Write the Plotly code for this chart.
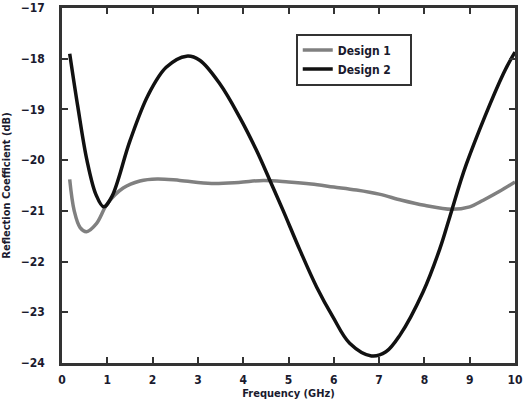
import plotly.graph_objects as go

# Frequency (GHz) and reflection coefficient (dB)
freq1 = [0.17, 0.27, 0.4, 0.54, 0.76, 1.0, 1.35, 1.72, 2.1, 2.6, 3.3, 3.9, 4.45, 5.0, 5.5, 6.0,
         6.5, 7.0, 7.5, 8.0, 8.6, 9.0, 9.3, 9.65, 10.0]
design1 = [-20.38, -21.0, -21.33, -21.41, -21.25, -20.86, -20.55, -20.41, -20.37, -20.4, -20.46,
           -20.44, -20.4, -20.43, -20.47, -20.53, -20.59, -20.67, -20.79, -20.89, -20.97, -20.92,
           -20.79, -20.62, -20.43]

freq2 = [0.17, 0.35, 0.55, 0.75, 0.92, 1.1, 1.5, 1.9, 2.3, 2.75, 3.04, 3.48, 3.92, 4.29, 4.59,
         4.88, 5.25, 5.62, 5.98, 6.35, 6.83, 7.15, 7.46, 7.97, 8.34, 8.56, 8.93, 9.74, 10.0]
design2 = [-17.9, -18.95, -20.0, -20.68, -20.92, -20.72, -19.62, -18.72, -18.17, -17.95, -18.03,
           -18.49, -19.15, -19.8, -20.4, -20.99, -21.77, -22.5, -23.09, -23.61, -23.86, -23.78,
           -23.45, -22.6, -21.75, -21.12, -20.07, -18.3, -17.87]

font = "DejaVu Sans Condensed, Liberation Sans Narrow, sans-serif"
txt = "#1a1a2e"

fig = go.Figure()
fig.add_trace(go.Scatter(x=freq1, y=design1, name="<b>Design 1</b>    ", mode="lines",
                         line=dict(color="#808080", width=3.5, shape="spline", smoothing=1.0)))
fig.add_trace(go.Scatter(x=freq2, y=design2, name="<b>Design 2</b>    ", mode="lines",
                         line=dict(color="#111111", width=3.5, shape="spline", smoothing=1.0)))

axis = dict(showline=True, linecolor="#333333", linewidth=2.5, mirror="ticks",
            ticks="inside", ticklen=6, tickwidth=2, tickcolor="#333333",
            showgrid=False, zeroline=False, automargin=False,
            tickprefix="<b>", ticksuffix="</b>",
            tickfont=dict(family=font, size=12, color=txt))

fig.update_xaxes(range=[0, 10], dtick=1, ticklabelstandoff=4,
                 title=dict(text="<b>Frequency (GHz)</b>", standoff=4,
                            font=dict(family=font, size=11, color=txt)), **axis)
fig.update_yaxes(range=[-24, -17], dtick=1, ticklabelstandoff=12,
                 title=dict(text="<b>Reflection Coefficient (dB)</b>", standoff=10,
                            font=dict(family=font, size=11, color=txt)), **axis)

fig.update_layout(
    width=524, height=404,
    margin=dict(l=62, r=9, t=8, b=41),
    plot_bgcolor="white", paper_bgcolor="white",
    font=dict(family=font, color=txt),
    legend=dict(x=0.516, y=0.928, xanchor="left", yanchor="top",
                bordercolor="#333333", borderwidth=2, bgcolor="white",
                font=dict(family=font, size=12, color=txt),
                tracegroupgap=0, itemwidth=30),
)

# page body has a default 8px margin; drop it so the 524x404 figure fills the window
fig.write_html("out.html", config={"displayModeBar": False},
               post_script="document.body.style.margin='0px';")
